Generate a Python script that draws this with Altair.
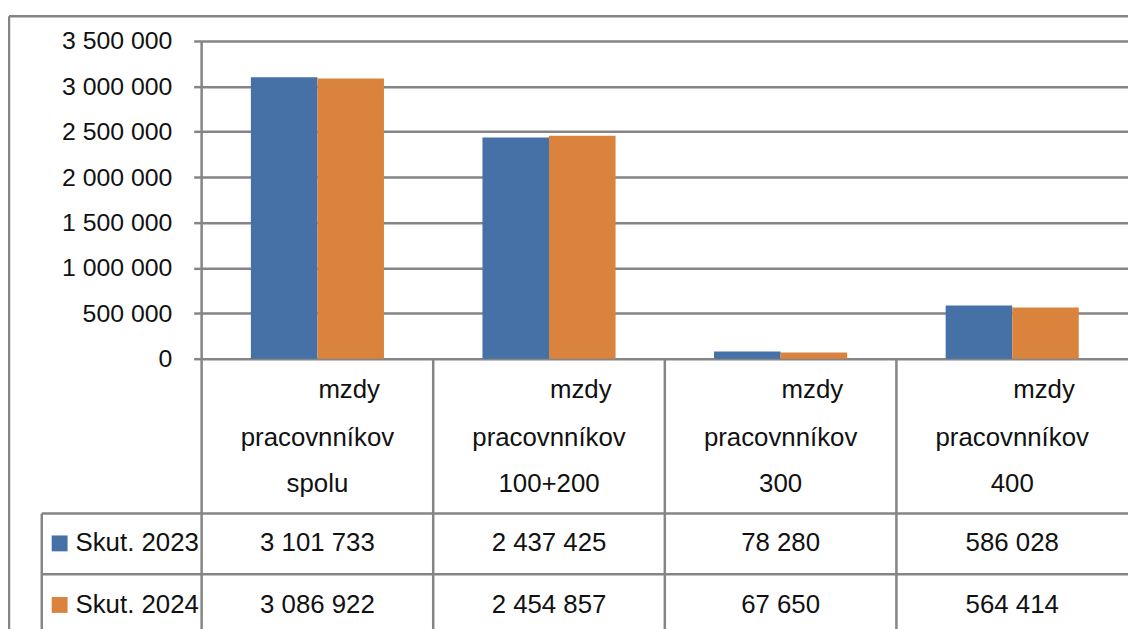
import altair as alt
import pandas as pd

# ---- data ----
categories = ["mzdy pracovnníkov spolu", "mzdy pracovnníkov 100+200",
              "mzdy pracovnníkov 300", "mzdy pracovnníkov 400"]
cat_line1 = ["mzdy", "mzdy", "mzdy", "mzdy"]
cat_line2 = ["pracovnníkov", "pracovnníkov", "pracovnníkov", "pracovnníkov"]
cat_line3 = ["spolu", "100+200", "300", "400"]
series = ["Skut. 2023", "Skut. 2024"]
values_2023 = [3101733, 2437425, 78280, 586028]
values_2024 = [3086922, 2454857, 67650, 564414]
y_ticks = [0, 500000, 1000000, 1500000, 2000000, 2500000, 3000000, 3500000]

colors = ["#4571A6", "#DA833C"]
FONT = "Liberation Sans, Arial, sans-serif"
GRID = "#858585"
TXT = "#111111"
W, H = 933, 320
FS = 26


def fmt(v):
    return f"{v:,}".replace(",", " ")


rows = []
for s, vals in zip(series, [values_2023, values_2024]):
    for c, v in zip(categories, vals):
        rows.append({"category": c, "series": s, "value": v, "label": fmt(v)})
bars_df = pd.DataFrame(rows)
cat_df = pd.DataFrame({"category": categories, "l1": cat_line1,
                       "l2": cat_line2, "l3": cat_line3})

xscale = alt.Scale(domain=categories, paddingInner=0, paddingOuter=0)
yscale = alt.Scale(domain=[0, 3500000], nice=False)

base = alt.Chart(bars_df)

bars = base.mark_bar().encode(
    x=alt.X("category:N", scale=xscale, axis=None, sort=categories),
    xOffset=alt.XOffset("series:N", scale=alt.Scale(domain=series, paddingOuter=0.74, paddingInner=0)),
    y=alt.Y("value:Q", scale=yscale, title=None,
            axis=alt.Axis(values=y_ticks,
                          labelExpr="replace(format(datum.value, ','), /,/g, ' ')",
                          grid=True, gridColor=GRID, gridWidth=2.5,
                          tickColor=GRID, tickWidth=2.5, tickSize=8,
                          domain=False, labelFont=FONT, labelFontSize=25,
                          labelColor=TXT, labelPadding=22)),
    color=alt.Color("series:N", scale=alt.Scale(domain=series, range=colors), legend=None),
)

cat_base = alt.Chart(cat_df)
xcat = alt.X("category:N", scale=xscale, axis=None, sort=categories)

# structural lines
yaxis_line = cat_base.transform_filter(alt.datum.category == categories[0]).mark_rule(
    color=GRID, strokeWidth=2.5).encode(
    x=alt.X("category:N", scale=xscale, axis=None, sort=categories, bandPosition=0),
    y=alt.value(0), y2=alt.value(600))
col_lines = cat_base.transform_filter(alt.datum.category != categories[0]).mark_rule(
    color=GRID, strokeWidth=2.5).encode(
    x=alt.X("category:N", scale=xscale, axis=None, sort=categories, bandPosition=0),
    y=alt.value(H), y2=alt.value(600))

def hline(y, x0, x1):
    return cat_base.transform_filter(alt.datum.category == categories[0]).mark_rule(
        color=GRID, strokeWidth=2.5).encode(
        x=alt.value(x0), x2=alt.value(x1), y=alt.value(y))

def vline(x, y0, y1):
    return cat_base.transform_filter(alt.datum.category == categories[0]).mark_rule(
        color=GRID, strokeWidth=2.5).encode(
        x=alt.value(x), y=alt.value(y0), y2=alt.value(y1))

border_top = hline(-25, -194, W + 10)
border_left = vline(-194, -25, 600)
table_top = hline(476, -161, W + 10)
table_row = hline(537, -161, W + 10)
legend_left = vline(-161, 476, 600)

# category labels
t1 = cat_base.mark_text(font=FONT, fontSize=FS, color=TXT, dx=32).encode(
    x=xcat, y=alt.value(352), text="l1:N")
t2 = cat_base.mark_text(font=FONT, fontSize=FS, color=TXT).encode(
    x=xcat, y=alt.value(400), text="l2:N")
t3 = cat_base.mark_text(font=FONT, fontSize=FS, color=TXT).encode(
    x=xcat, y=alt.value(446), text="l3:N")

layers = [bars, yaxis_line, col_lines, border_top, border_left,
          table_top, table_row, legend_left, t1, t2, t3]

row_y = [506, 568]
for i, s in enumerate(series):
    sub = base.transform_filter(alt.datum.series == s)
    vals = sub.mark_text(font=FONT, fontSize=FS, color=TXT).encode(
        x=xcat, y=alt.value(row_y[i]), text="label:N")
    leg_df = pd.DataFrame({"series": [s]})
    sw = alt.Chart(leg_df).mark_rect(color=colors[i]).encode(
        x=alt.value(-151), x2=alt.value(-135),
        y=alt.value(row_y[i] - 8), y2=alt.value(row_y[i] + 8))
    lt = alt.Chart(leg_df).mark_text(font=FONT, fontSize=FS, color=TXT, align="left").encode(
        x=alt.value(-127), y=alt.value(row_y[i]), text="series:N")
    layers += [vals, sw, lt]

chart = alt.layer(*layers).properties(
    width=W, height=H,
    autosize=alt.AutoSizeParams(type="none"),
    padding={"left": 195, "top": 31, "right": 0, "bottom": 270},
).configure_view(stroke=None).configure(background="white")

chart.save("out.html", embed_options={"renderer": "svg", "actions": False})
